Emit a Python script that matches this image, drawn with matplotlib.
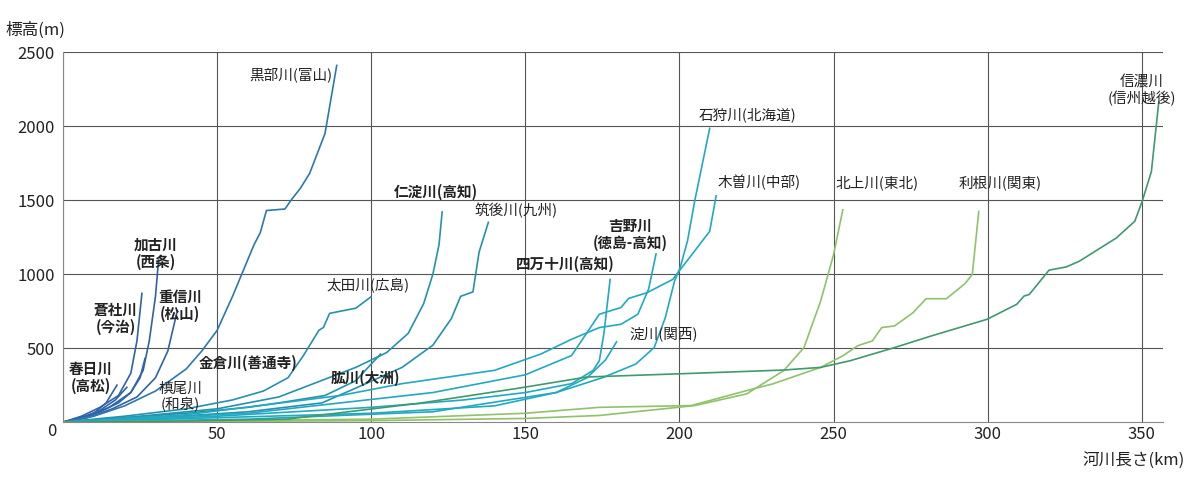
import matplotlib
matplotlib.use("Agg")
import matplotlib.pyplot as plt

plt.rcParams['font.family'] = ['Noto Sans CJK JP', 'DejaVu Sans']

# river profiles: distance from mouth (km), elevation (m)
kurobe_km = [0, 10, 20, 30, 40, 45, 50, 55, 58, 62, 64, 66, 72, 74, 77, 80, 85, 88.8]
kurobe_m = [0, 40, 110, 210, 360, 480, 620, 850, 1000, 1200, 1280, 1430, 1440, 1500, 1580, 1680, 1950, 2410]
kasuga_km = [0, 5, 10, 14, 17.5]
kasuga_m = [0, 20, 60, 130, 250]
sousha_km = [0, 6, 12, 18, 22, 24, 25.6]
sousha_m = [0, 40, 100, 180, 330, 550, 870]
kako_km = [0, 8, 15, 22, 26, 28, 30, 31]
kako_m = [0, 40, 100, 200, 350, 550, 850, 1095]
shigenobu_km = [0, 8, 16, 24, 30, 34, 37]
shigenobu_m = [0, 30, 90, 170, 300, 480, 745]
kanakura_km = [0, 6, 12, 18, 22, 25, 26.6]
kanakura_m = [0, 30, 70, 130, 200, 300, 430]
makio_km = [0, 6, 12, 17, 20.7]
makio_m = [0, 30, 80, 150, 235]
ota_km = [0, 20, 40, 55, 65, 73, 78, 83, 84.5, 86.5, 95, 99.8]
ota_m = [0, 40, 90, 150, 210, 300, 450, 620, 640, 735, 770, 845]
hiji_km = [0, 40, 60, 70, 85, 95, 103]
hiji_m = [0, 60, 100, 130, 180, 280, 460]
niyodo_km = [0, 20, 50, 70, 85, 95, 105, 112, 117, 120, 122, 123]
niyodo_m = [0, 30, 90, 170, 290, 370, 470, 600, 800, 1000, 1200, 1420]
chikugo_km = [0, 30, 60, 84, 95, 110, 120, 126, 129, 133, 135, 138]
chikugo_m = [0, 30, 70, 130, 230, 370, 520, 700, 850, 880, 1150, 1350]
shimanto_km = [0, 50, 100, 130, 150, 165, 172, 174, 175.5, 177.5]
shimanto_m = [0, 40, 100, 150, 200, 260, 350, 415, 600, 964]
yodo_km = [0, 50, 100, 140, 160, 170, 176, 179.6]
yodo_m = [0, 30, 60, 110, 200, 300, 420, 543]
yoshino_km = [0, 40, 90, 110, 140, 155, 165, 174, 181, 186.5, 190, 192.4]
yoshino_m = [0, 50, 180, 260, 350, 460, 560, 639, 661, 729, 900, 1137]
kiso_km = [0, 60, 120, 150, 165, 174, 181, 183.5, 189.4, 197.8, 203.2, 209.8, 211.9]
kiso_m = [0, 60, 200, 320, 450, 729, 774, 836, 874, 964, 1110, 1289, 1529]
ishikari_km = [0, 60, 120, 160, 175, 185.8, 191.8, 195.4, 198.4, 200.2, 202.6, 205, 209.8]
ishikari_m = [0, 20, 70, 200, 300, 392, 504, 706, 953, 1043, 1224, 1500, 1985]
kitakami_km = [0, 100, 150, 174, 205, 221.8, 233.8, 240.4, 245.8, 250, 253]
kitakami_m = [0, 10, 25, 45, 112, 191, 348, 504, 818, 1132, 1435]
tone_km = [0, 100, 150, 174, 203.8, 221.8, 230.2, 245.8, 253, 257.8, 262.6, 265.6, 269.8,
           275.8, 280, 286.6, 292.6, 295, 297.1]
tone_m = [0, 20, 60, 100, 112, 213, 258, 370, 448, 516, 549, 639, 650,
          740, 834, 834, 935, 998, 1424]
shinano_km = [0, 40, 72.6, 115.7, 148, 170, 206, 233.8, 245.8, 255.4, 269.8, 281.8, 299.8,
              309.4, 311.8, 313.5, 319.9, 325.5, 329.7, 341.7, 347.7, 350.1, 353.1, 355.5]
shinano_m = [0, 8, 20, 128, 230, 305, 331, 352, 370, 415, 504, 583, 695,
             796, 852, 863, 1027, 1049, 1087, 1244, 1357, 1491, 1693, 2163]

blue = '#2f62a9'
blue2 = '#2b79ad'
teal = '#2592ad'
cyan = '#21a9c2'
green = '#3f9a6e'
lgreen = '#8fc26a'

rivers = [
    (kasuga_km, kasuga_m, blue), (sousha_km, sousha_m, blue), (kako_km, kako_m, blue),
    (shigenobu_km, shigenobu_m, blue), (kanakura_km, kanakura_m, blue), (makio_km, makio_m, blue),
    (kurobe_km, kurobe_m, blue2), (ota_km, ota_m, teal), (hiji_km, hiji_m, teal),
    (niyodo_km, niyodo_m, teal), (chikugo_km, chikugo_m, teal), (shimanto_km, shimanto_m, cyan),
    (yodo_km, yodo_m, cyan), (yoshino_km, yoshino_m, cyan), (kiso_km, kiso_m, cyan),
    (ishikari_km, ishikari_m, cyan), (kitakami_km, kitakami_m, lgreen), (tone_km, tone_m, lgreen),
    (shinano_km, shinano_m, green),
]

# label text, x (km), y (m), bold
labels = [
    ('黒部川(富山)', 74, 2350, False), ('加古川\n(西条)', 30, 1140, True),
    ('蒼社川\n(今治)', 17, 700, True), ('重信川\n(松山)', 38, 790, True),
    ('春日川\n(高松)', 9, 300, True), ('金倉川(善通寺)', 60, 400, True),
    ('槙尾川\n(和泉)', 38, 170, False), ('太田川(広島)', 99, 920, False),
    ('肱川(大洲)', 98, 300, True), ('仁淀川(高知)', 121, 1555, True),
    ('筑後川(九州)', 147, 1430, False), ('四万十川(高知)', 163, 1070, True),
    ('吉野川\n(徳島-高知)', 184, 1270, True), ('淀川(関西)', 195, 600, False),
    ('石狩川(北海道)', 222, 2080, False), ('木曽川(中部)', 226, 1620, False),
    ('北上川(東北)', 264, 1620, False), ('利根川(関東)', 304, 1620, False),
    ('信濃川\n(信州越後)', 350, 2240, False),
]

fig = plt.figure(figsize=(12, 4.92), dpi=100)
ax = fig.add_axes([0.0525, 0.142, 0.917, 0.752])

for km, m, c in rivers:
    ax.plot(km, m, color=c, lw=1.2)

for text, x, y, bold in labels:
    ax.text(x, y, text, ha='center', va='center', fontsize=10.5, linespacing=1.1,
            fontweight='bold' if bold else 'normal', color='#222222')

ax.set_xlim(0, 357)
ax.set_ylim(0, 2500)
ax.set_xticks(range(0, 351, 50))
ax.set_yticks(range(500, 2501, 500))
ax.set_xticklabels([''] + [str(v) for v in range(50, 351, 50)])
ax.grid(True, color='#555555', lw=0.8)
ax.tick_params(length=0, labelsize=12, colors='#222222')
ax.tick_params(axis='x', pad=3)
ax.tick_params(axis='y', pad=6)
for s in ['top', 'right']:
    ax.spines[s].set_visible(False)
for s in ['left', 'bottom']:
    ax.spines[s].set_color('#888888')
ax.set_axisbelow(True)

fig.text(52 / 1200, 1 - 432 / 492, '0', ha='center', va='center', fontsize=12, color='#222222')
fig.text(5 / 1200, 1 - 30 / 492, '標高(m)', ha='left', va='center', fontsize=12, color='#222222')
fig.text(1185 / 1200, 1 - 460 / 492, '河川長さ(km)', ha='right', va='center', fontsize=12, color='#222222')

fig.savefig('out.png', dpi=100)
